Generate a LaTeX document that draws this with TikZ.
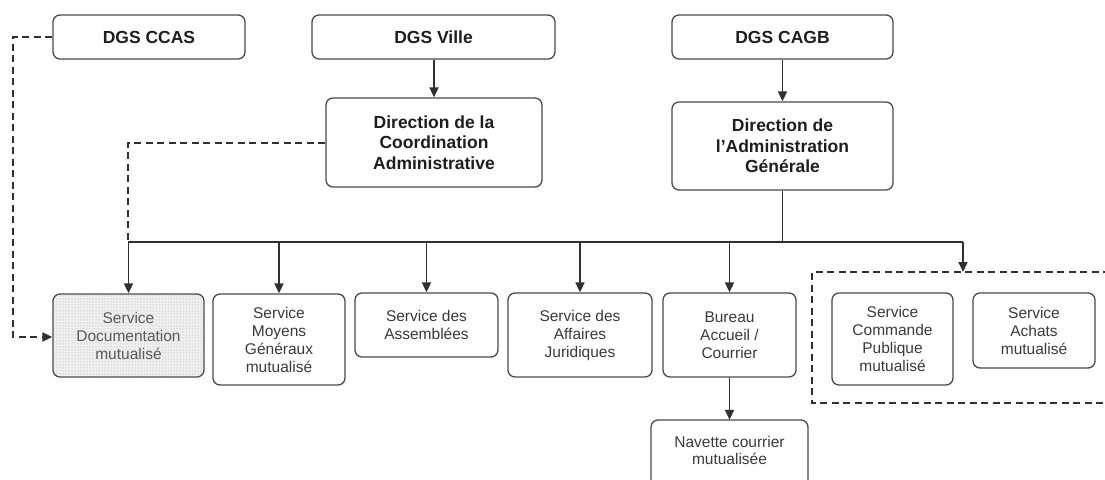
\documentclass[tikz,border=0pt]{standalone}
\usepackage{fontspec}
\setmainfont{Liberation Sans}
\usetikzlibrary{arrows.meta,patterns}
\definecolor{edge}{HTML}{4A4A4A}
\definecolor{wire}{HTML}{303030}
\definecolor{ink}{HTML}{1E1E1E}
\definecolor{softink}{HTML}{3A3A3A}
\tikzset{
  head/.style={draw=edge, line width=1.3pt, rounded corners=7pt, fill=white,
    text=ink, align=center, inner sep=2pt,
    font=\fontsize{17.5}{20.5}\selectfont\bfseries},
  unit/.style={draw=edge, line width=1.3pt, rounded corners=7pt, fill=white,
    text=softink, align=center, inner sep=2pt,
    font=\fontsize{15.5}{18}\selectfont},
  shared/.style={unit, fill=gray!12, text=gray!70!black,
    postaction={pattern=dots, pattern color=gray!75}},
  link/.style={draw=wire, line width=1.8pt},
  arr/.style={link, -{Triangle[width=9pt,length=10pt]}},
  dlink/.style={draw=wire, line width=2pt, dash pattern=on 7pt off 4.5pt},
  darr/.style={dlink, -{Triangle[width=9pt,length=10pt]}},
}
\begin{document}
\begin{tikzpicture}[x=1pt,y=-1pt]
\useasboundingbox (0,0) rectangle (1105,479);

% top level
\node[head, minimum width=192pt, minimum height=44pt] (ccas) at (149,37) {DGS CCAS};
\node[head, minimum width=243pt, minimum height=44pt] (ville) at (433.5,37) {DGS Ville};
\node[head, minimum width=221pt, minimum height=44pt] (cagb) at (782.5,37) {DGS CAGB};

% directions
\node[head, minimum width=216pt, minimum height=89pt] (dca) at (434,142.5)
  {Direction de la\\Coordination\\Administrative};
\node[head, minimum width=221pt, minimum height=88pt] (dag) at (782.5,146)
  {Direction de\\l’Administration\\Générale};

% services
\node[shared, minimum width=151pt, minimum height=83pt] (doc) at (128.5,335.5)
  {Service\\Documentation\\mutualisé};
\node[unit, minimum width=132pt, minimum height=91pt] (moy) at (279,339.5)
  {Service\\Moyens\\Généraux\\mutualisé};
\node[unit, minimum width=143pt, minimum height=64pt] (ass) at (426.5,325)
  {Service des\\Assemblées};
\node[unit, minimum width=144pt, minimum height=84pt] (jur) at (580,335)
  {Service des\\Affaires\\Juridiques};
\node[unit, minimum width=133pt, minimum height=84pt] (bur) at (729.5,335)
  {Bureau\\Accueil /\\Courrier};

% shuttle box, running off the bottom edge
\draw[draw=edge, line width=1.3pt, rounded corners=7pt]
  (651,500) -- (651,420) -- (808,420) -- (808,500);
\node[text=softink, align=center, font=\fontsize{15.5}{17}\selectfont,
  minimum height=60pt, inner sep=0pt] (nav) at (729.5,450)
  {Navette courrier\\mutualisée};

% dashed group of shared purchasing services
\draw[dlink] (1110,272) -- (812,272) -- (812,403) -- (1110,403);
\coordinate (grptop) at (963,272);
\node[unit, minimum width=121pt, minimum height=92pt] (cmd) at (892.5,339)
  {Service\\Commande\\Publique\\mutualisé};
\node[unit, minimum width=122pt, minimum height=75pt] (ach) at (1034,330.5)
  {Service\\Achats\\mutualisé};

% hierarchy
\draw[arr] (ville.south -| dca.north) -- (dca.north);
\draw[arr] (cagb.south) -- (dag.north);

\coordinate (busL) at (128,242);
\coordinate (busR) at (963,242);
\draw[link] (dag.south) -- (dag.south |- busL);
\draw[link] (busL) -- (busR);
\draw[arr] (doc.north |- busL) -- (doc.north);
\draw[arr] (moy.north |- busL) -- (moy.north);
\draw[arr] (ass.north |- busL) -- (ass.north);
\draw[arr] (jur.north |- busL) -- (jur.north);
\draw[arr] (bur.north |- busL) -- (bur.north);
\draw[arr] (busR) -- (grptop);
\draw[arr] (bur.south) -- (nav.north);

% functional (dashed) links
\coordinate (ccasturn) at (13,37);
\coordinate (docturn) at (13,337);
\draw[darr] (ccas.west) -- (ccasturn) -- (docturn) -- (doc.west |- docturn);
\coordinate (dcaturn) at (128,142.5);
\draw[dlink] (dca.west) -- (dcaturn) -- (busL);
\end{tikzpicture}
\end{document}
